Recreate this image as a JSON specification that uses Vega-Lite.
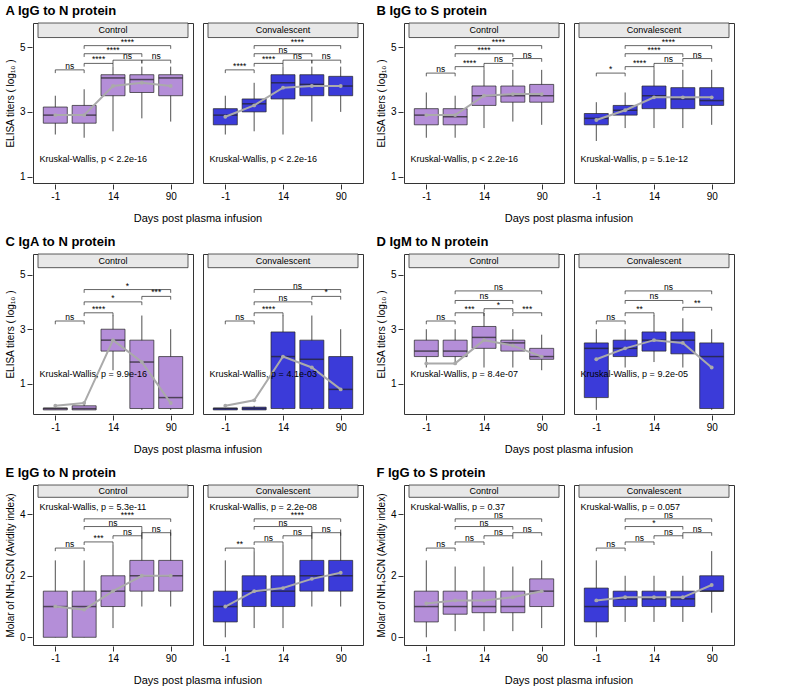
{
"$schema":"https://vega.github.io/schema/vega-lite/v6.json",
"padding":5,
"config":{"font":"Liberation Sans","view":{"stroke":"#333"},"axis":{"labelFontSize":10,"titleFontSize":10,"titleFontWeight":"normal","grid":false,"domain":false,"tickColor":"#333","labelOverlap":false},"title":{"anchor":"start","fontSize":13,"fontWeight":"bold","offset":4},"concat":{"spacing":12}},
"data":{"values":[
{"P":"A","g":"Control","k":"box","p":1,"q1":2.65,"md":2.9,"q3":3.15,"lo":2.3,"hi":3.5,"m":2.9},
{"P":"A","g":"Control","k":"box","p":2,"q1":2.65,"md":2.9,"q3":3.2,"lo":2.2,"hi":3.7,"m":2.9},
{"P":"A","g":"Control","k":"box","p":3,"q1":3.5,"md":4.05,"q3":4.15,"lo":2.4,"hi":4.4,"m":3.8},
{"P":"A","g":"Control","k":"box","p":4,"q1":3.6,"md":4.0,"q3":4.15,"lo":2.8,"hi":4.4,"m":3.9},
{"P":"A","g":"Control","k":"box","p":5,"q1":3.5,"md":4.05,"q3":4.15,"lo":2.7,"hi":4.4,"m":3.8},
{"P":"A","g":"Convalescent","k":"box","p":1,"q1":2.6,"md":2.9,"q3":3.1,"lo":2.3,"hi":3.5,"m":2.85},
{"P":"A","g":"Convalescent","k":"box","p":2,"q1":3.0,"md":3.25,"q3":3.4,"lo":2.4,"hi":3.9,"m":3.2},
{"P":"A","g":"Convalescent","k":"box","p":3,"q1":3.4,"md":3.9,"q3":4.15,"lo":2.3,"hi":4.4,"m":3.75},
{"P":"A","g":"Convalescent","k":"box","p":4,"q1":3.5,"md":3.85,"q3":4.15,"lo":2.7,"hi":4.4,"m":3.8},
{"P":"A","g":"Convalescent","k":"box","p":5,"q1":3.5,"md":3.8,"q3":4.1,"lo":3.0,"hi":4.4,"m":3.8},
{"P":"A","g":"Control","k":"br","a":1,"b":2,"y":4.3,"t":"ns"},
{"P":"A","g":"Control","k":"br","a":2,"b":3,"y":4.5,"t":"****"},
{"P":"A","g":"Control","k":"br","a":3,"b":4,"y":4.6,"t":"ns"},
{"P":"A","g":"Control","k":"br","a":4,"b":5,"y":4.6,"t":"ns"},
{"P":"A","g":"Control","k":"br","a":2,"b":4,"y":4.8,"t":"****"},
{"P":"A","g":"Control","k":"br","a":2,"b":5,"y":5.05,"t":"****"},
{"P":"A","g":"Convalescent","k":"br","a":1,"b":2,"y":4.3,"t":"****"},
{"P":"A","g":"Convalescent","k":"br","a":2,"b":3,"y":4.5,"t":"****"},
{"P":"A","g":"Convalescent","k":"br","a":3,"b":4,"y":4.6,"t":"ns"},
{"P":"A","g":"Convalescent","k":"br","a":4,"b":5,"y":4.6,"t":"ns"},
{"P":"A","g":"Convalescent","k":"br","a":2,"b":4,"y":4.8,"t":"ns"},
{"P":"A","g":"Convalescent","k":"br","a":2,"b":5,"y":5.05,"t":"****"},
{"P":"A","g":"Control","k":"kw","y":1.55,"t":"Kruskal-Wallis, p < 2.2e-16"},
{"P":"A","g":"Convalescent","k":"kw","y":1.55,"t":"Kruskal-Wallis, p < 2.2e-16"},

{"P":"B","g":"Control","k":"box","p":1,"q1":2.6,"md":2.9,"q3":3.1,"lo":2.2,"hi":3.6,"m":2.9},
{"P":"B","g":"Control","k":"box","p":2,"q1":2.6,"md":2.85,"q3":3.1,"lo":2.2,"hi":3.5,"m":2.9},
{"P":"B","g":"Control","k":"box","p":3,"q1":3.2,"md":3.5,"q3":3.8,"lo":2.5,"hi":4.3,"m":3.5},
{"P":"B","g":"Control","k":"box","p":4,"q1":3.3,"md":3.5,"q3":3.8,"lo":2.7,"hi":4.3,"m":3.55},
{"P":"B","g":"Control","k":"box","p":5,"q1":3.3,"md":3.5,"q3":3.85,"lo":2.6,"hi":4.3,"m":3.55},
{"P":"B","g":"Convalescent","k":"box","p":1,"q1":2.6,"md":2.8,"q3":2.95,"lo":2.1,"hi":3.3,"m":2.75},
{"P":"B","g":"Convalescent","k":"box","p":2,"q1":2.9,"md":3.05,"q3":3.2,"lo":2.5,"hi":3.6,"m":3.05},
{"P":"B","g":"Convalescent","k":"box","p":3,"q1":3.1,"md":3.5,"q3":3.8,"lo":2.5,"hi":4.3,"m":3.45},
{"P":"B","g":"Convalescent","k":"box","p":4,"q1":3.1,"md":3.4,"q3":3.75,"lo":2.5,"hi":4.3,"m":3.45},
{"P":"B","g":"Convalescent","k":"box","p":5,"q1":3.2,"md":3.35,"q3":3.75,"lo":2.6,"hi":4.3,"m":3.45},
{"P":"B","g":"Control","k":"br","a":1,"b":2,"y":4.2,"t":"ns"},
{"P":"B","g":"Control","k":"br","a":2,"b":3,"y":4.4,"t":"****"},
{"P":"B","g":"Control","k":"br","a":3,"b":4,"y":4.5,"t":"ns"},
{"P":"B","g":"Control","k":"br","a":4,"b":5,"y":4.65,"t":"ns"},
{"P":"B","g":"Control","k":"br","a":2,"b":4,"y":4.8,"t":"****"},
{"P":"B","g":"Control","k":"br","a":2,"b":5,"y":5.05,"t":"****"},
{"P":"B","g":"Convalescent","k":"br","a":1,"b":2,"y":4.2,"t":"*"},
{"P":"B","g":"Convalescent","k":"br","a":2,"b":3,"y":4.4,"t":"****"},
{"P":"B","g":"Convalescent","k":"br","a":3,"b":4,"y":4.5,"t":"ns"},
{"P":"B","g":"Convalescent","k":"br","a":4,"b":5,"y":4.65,"t":"ns"},
{"P":"B","g":"Convalescent","k":"br","a":2,"b":4,"y":4.8,"t":"****"},
{"P":"B","g":"Convalescent","k":"br","a":2,"b":5,"y":5.05,"t":"****"},
{"P":"B","g":"Control","k":"kw","y":1.55,"t":"Kruskal-Wallis, p < 2.2e-16"},
{"P":"B","g":"Convalescent","k":"kw","y":1.55,"t":"Kruskal-Wallis, p = 5.1e-12"},

{"P":"C","g":"Control","k":"box","p":1,"q1":0.05,"md":0.1,"q3":0.12,"lo":0.05,"hi":0.15,"m":0.2},
{"P":"C","g":"Control","k":"box","p":2,"q1":0.05,"md":0.1,"q3":0.2,"lo":0.05,"hi":0.3,"m":0.3},
{"P":"C","g":"Control","k":"box","p":3,"q1":2.2,"md":2.6,"q3":3.0,"lo":1.5,"hi":3.5,"m":2.6},
{"P":"C","g":"Control","k":"box","p":4,"q1":0.1,"md":1.8,"q3":2.6,"lo":0.05,"hi":3.5,"m":1.8},
{"P":"C","g":"Control","k":"box","p":5,"q1":0.1,"md":0.5,"q3":2.0,"lo":0.05,"hi":3.0,"m":0.3},
{"P":"C","g":"Convalescent","k":"box","p":1,"q1":0.05,"md":0.1,"q3":0.12,"lo":0.05,"hi":0.15,"m":0.2},
{"P":"C","g":"Convalescent","k":"box","p":2,"q1":0.05,"md":0.1,"q3":0.15,"lo":0.05,"hi":0.2,"m":0.4},
{"P":"C","g":"Convalescent","k":"box","p":3,"q1":0.1,"md":2.0,"q3":2.9,"lo":0.05,"hi":3.5,"m":2.0},
{"P":"C","g":"Convalescent","k":"box","p":4,"q1":0.1,"md":1.9,"q3":2.6,"lo":0.05,"hi":3.5,"m":1.6},
{"P":"C","g":"Convalescent","k":"box","p":5,"q1":0.1,"md":0.8,"q3":2.0,"lo":0.05,"hi":3.0,"m":0.8},
{"P":"C","g":"Control","k":"br","a":1,"b":2,"y":3.3,"t":"ns"},
{"P":"C","g":"Control","k":"br","a":2,"b":3,"y":3.6,"t":"****"},
{"P":"C","g":"Control","k":"br","a":2,"b":4,"y":4.0,"t":"*"},
{"P":"C","g":"Control","k":"br","a":4,"b":5,"y":4.2,"t":"***"},
{"P":"C","g":"Control","k":"br","a":2,"b":5,"y":4.45,"t":"*"},
{"P":"C","g":"Convalescent","k":"br","a":1,"b":2,"y":3.3,"t":"ns"},
{"P":"C","g":"Convalescent","k":"br","a":2,"b":3,"y":3.6,"t":"****"},
{"P":"C","g":"Convalescent","k":"br","a":2,"b":4,"y":4.0,"t":"ns"},
{"P":"C","g":"Convalescent","k":"br","a":4,"b":5,"y":4.2,"t":"*"},
{"P":"C","g":"Convalescent","k":"br","a":2,"b":5,"y":4.45,"t":"ns"},
{"P":"C","g":"Control","k":"kw","y":1.35,"t":"Kruskal-Wallis, p = 9.9e-16"},
{"P":"C","g":"Convalescent","k":"kw","y":1.35,"t":"Kruskal-Wallis, p = 4.1e-03"},

{"P":"D","g":"Control","k":"box","p":1,"q1":2.0,"md":2.2,"q3":2.6,"lo":1.6,"hi":3.0,"m":1.75},
{"P":"D","g":"Control","k":"box","p":2,"q1":2.0,"md":2.2,"q3":2.6,"lo":1.7,"hi":3.0,"m":1.75},
{"P":"D","g":"Control","k":"box","p":3,"q1":2.3,"md":2.7,"q3":3.1,"lo":1.6,"hi":3.6,"m":2.6},
{"P":"D","g":"Control","k":"box","p":4,"q1":2.2,"md":2.5,"q3":2.6,"lo":1.6,"hi":3.0,"m":2.4},
{"P":"D","g":"Control","k":"box","p":5,"q1":1.9,"md":2.0,"q3":2.3,"lo":1.5,"hi":2.8,"m":2.0},
{"P":"D","g":"Convalescent","k":"box","p":1,"q1":0.5,"md":2.3,"q3":2.5,"lo":0.05,"hi":3.0,"m":1.9},
{"P":"D","g":"Convalescent","k":"box","p":2,"q1":2.0,"md":2.3,"q3":2.6,"lo":1.6,"hi":3.0,"m":2.3},
{"P":"D","g":"Convalescent","k":"box","p":3,"q1":2.2,"md":2.6,"q3":2.9,"lo":1.8,"hi":3.5,"m":2.6},
{"P":"D","g":"Convalescent","k":"box","p":4,"q1":2.1,"md":2.6,"q3":2.9,"lo":1.6,"hi":3.4,"m":2.5},
{"P":"D","g":"Convalescent","k":"box","p":5,"q1":0.1,"md":2.0,"q3":2.5,"lo":0.05,"hi":3.0,"m":1.6},
{"P":"D","g":"Control","k":"br","a":1,"b":2,"y":3.3,"t":"ns"},
{"P":"D","g":"Control","k":"br","a":2,"b":3,"y":3.6,"t":"***"},
{"P":"D","g":"Control","k":"br","a":3,"b":4,"y":3.75,"t":"*"},
{"P":"D","g":"Control","k":"br","a":4,"b":5,"y":3.6,"t":"***"},
{"P":"D","g":"Control","k":"br","a":2,"b":4,"y":4.05,"t":"ns"},
{"P":"D","g":"Control","k":"br","a":2,"b":5,"y":4.4,"t":"ns"},
{"P":"D","g":"Convalescent","k":"br","a":1,"b":2,"y":3.3,"t":"ns"},
{"P":"D","g":"Convalescent","k":"br","a":2,"b":3,"y":3.6,"t":"**"},
{"P":"D","g":"Convalescent","k":"br","a":4,"b":5,"y":3.8,"t":"**"},
{"P":"D","g":"Convalescent","k":"br","a":2,"b":4,"y":4.05,"t":"ns"},
{"P":"D","g":"Convalescent","k":"br","a":2,"b":5,"y":4.4,"t":"ns"},
{"P":"D","g":"Control","k":"kw","y":1.35,"t":"Kruskal-Wallis, p = 8.4e-07"},
{"P":"D","g":"Convalescent","k":"kw","y":1.35,"t":"Kruskal-Wallis, p = 9.2e-05"},

{"P":"E","g":"Control","k":"box","p":1,"q1":0.0,"md":1.0,"q3":1.5,"lo":0.0,"hi":2.5,"m":1.0},
{"P":"E","g":"Control","k":"box","p":2,"q1":0.0,"md":1.0,"q3":1.5,"lo":0.0,"hi":2.5,"m":0.9},
{"P":"E","g":"Control","k":"box","p":3,"q1":1.0,"md":1.5,"q3":2.0,"lo":0.3,"hi":3.0,"m":1.5},
{"P":"E","g":"Control","k":"box","p":4,"q1":1.5,"md":2.0,"q3":2.5,"lo":1.0,"hi":3.5,"m":2.0},
{"P":"E","g":"Control","k":"box","p":5,"q1":1.5,"md":2.0,"q3":2.5,"lo":1.0,"hi":3.5,"m":2.0},
{"P":"E","g":"Convalescent","k":"box","p":1,"q1":0.5,"md":1.0,"q3":1.5,"lo":0.0,"hi":2.5,"m":1.0},
{"P":"E","g":"Convalescent","k":"box","p":2,"q1":1.0,"md":1.5,"q3":2.0,"lo":0.3,"hi":2.8,"m":1.5},
{"P":"E","g":"Convalescent","k":"box","p":3,"q1":1.0,"md":1.5,"q3":2.0,"lo":0.3,"hi":3.0,"m":1.6},
{"P":"E","g":"Convalescent","k":"box","p":4,"q1":1.5,"md":2.0,"q3":2.5,"lo":1.0,"hi":3.5,"m":1.9},
{"P":"E","g":"Convalescent","k":"box","p":5,"q1":1.5,"md":2.0,"q3":2.5,"lo":1.0,"hi":3.5,"m":2.1},
{"P":"E","g":"Control","k":"br","a":1,"b":2,"y":2.9,"t":"ns"},
{"P":"E","g":"Control","k":"br","a":2,"b":3,"y":3.1,"t":"***"},
{"P":"E","g":"Control","k":"br","a":3,"b":4,"y":3.3,"t":"ns"},
{"P":"E","g":"Control","k":"br","a":4,"b":5,"y":3.4,"t":"ns"},
{"P":"E","g":"Control","k":"br","a":2,"b":4,"y":3.6,"t":"ns"},
{"P":"E","g":"Control","k":"br","a":2,"b":5,"y":3.85,"t":"****"},
{"P":"E","g":"Convalescent","k":"br","a":1,"b":2,"y":2.9,"t":"**"},
{"P":"E","g":"Convalescent","k":"br","a":2,"b":3,"y":3.1,"t":"ns"},
{"P":"E","g":"Convalescent","k":"br","a":3,"b":4,"y":3.3,"t":"ns"},
{"P":"E","g":"Convalescent","k":"br","a":4,"b":5,"y":3.4,"t":"ns"},
{"P":"E","g":"Convalescent","k":"br","a":2,"b":4,"y":3.6,"t":"ns"},
{"P":"E","g":"Convalescent","k":"br","a":2,"b":5,"y":3.85,"t":"****"},
{"P":"E","g":"Control","k":"kw","y":4.25,"t":"Kruskal-Wallis, p = 5.3e-11"},
{"P":"E","g":"Convalescent","k":"kw","y":4.25,"t":"Kruskal-Wallis, p = 2.2e-08"},

{"P":"F","g":"Control","k":"box","p":1,"q1":0.5,"md":1.0,"q3":1.5,"lo":0.0,"hi":2.5,"m":1.1},
{"P":"F","g":"Control","k":"box","p":2,"q1":0.75,"md":1.0,"q3":1.5,"lo":0.2,"hi":2.3,"m":1.2},
{"P":"F","g":"Control","k":"box","p":3,"q1":0.8,"md":1.0,"q3":1.5,"lo":0.2,"hi":2.3,"m":1.2},
{"P":"F","g":"Control","k":"box","p":4,"q1":0.8,"md":1.0,"q3":1.5,"lo":0.2,"hi":2.3,"m":1.3},
{"P":"F","g":"Control","k":"box","p":5,"q1":1.0,"md":1.5,"q3":1.9,"lo":0.3,"hi":2.5,"m":1.5},
{"P":"F","g":"Convalescent","k":"box","p":1,"q1":0.5,"md":1.0,"q3":1.6,"lo":0.0,"hi":2.5,"m":1.2},
{"P":"F","g":"Convalescent","k":"box","p":2,"q1":1.0,"md":1.25,"q3":1.5,"lo":0.5,"hi":2.0,"m":1.3},
{"P":"F","g":"Convalescent","k":"box","p":3,"q1":1.0,"md":1.25,"q3":1.5,"lo":0.5,"hi":2.0,"m":1.3},
{"P":"F","g":"Convalescent","k":"box","p":4,"q1":1.0,"md":1.25,"q3":1.5,"lo":0.5,"hi":2.0,"m":1.3},
{"P":"F","g":"Convalescent","k":"box","p":5,"q1":1.5,"md":1.5,"q3":2.0,"lo":0.8,"hi":2.8,"m":1.7},
{"P":"F","g":"Control","k":"br","a":1,"b":2,"y":2.9,"t":"ns"},
{"P":"F","g":"Control","k":"br","a":2,"b":3,"y":3.1,"t":"ns"},
{"P":"F","g":"Control","k":"br","a":3,"b":4,"y":3.3,"t":"ns"},
{"P":"F","g":"Control","k":"br","a":4,"b":5,"y":3.4,"t":"ns"},
{"P":"F","g":"Control","k":"br","a":2,"b":4,"y":3.6,"t":"ns"},
{"P":"F","g":"Control","k":"br","a":2,"b":5,"y":3.85,"t":"ns"},
{"P":"F","g":"Convalescent","k":"br","a":1,"b":2,"y":2.9,"t":"ns"},
{"P":"F","g":"Convalescent","k":"br","a":2,"b":3,"y":3.1,"t":"ns"},
{"P":"F","g":"Convalescent","k":"br","a":3,"b":4,"y":3.3,"t":"ns"},
{"P":"F","g":"Convalescent","k":"br","a":4,"b":5,"y":3.4,"t":"ns"},
{"P":"F","g":"Convalescent","k":"br","a":2,"b":4,"y":3.6,"t":"*"},
{"P":"F","g":"Convalescent","k":"br","a":2,"b":5,"y":3.85,"t":"ns"},
{"P":"F","g":"Control","k":"kw","y":4.25,"t":"Kruskal-Wallis, p = 0.37"},
{"P":"F","g":"Convalescent","k":"kw","y":4.25,"t":"Kruskal-Wallis, p = 0.057"}
]},
"vconcat":[
{"hconcat":[
{"title":"A   IgG to N protein","transform":[{"filter":"datum.P=='A'"}],"facet":{"column":{"field":"g","header":{"title":"Days post plasma infusion","titleOrient":"bottom","labels":false,"titleFontSize":11,"titleFontWeight":"normal","titlePadding":2}}},"spacing":8,
"spec":{"width":160,"height":160,"layer":[
{"transform":[{"filter":"datum.k=='kw'"}],"mark":{"type":"rect","fill":"#e8e8e8","stroke":"#333","strokeWidth":0.8},"encoding":{"x":{"datum":0.4,"type":"quantitative","scale":{"domain":[0.4,5.6],"nice":false,"zero":false},"axis":{"values":[1,2,3,4,5],"labelExpr":"['','-1','0','14','28','90'][datum.value]","title":null}},"x2":{"datum":5.6},"y":{"datum":5.3,"type":"quantitative","scale":{"domain":[0.8,5.75],"nice":false,"zero":false},"axis":{"values":[1,2,3,4,5],"title":"ELISA titers ( log₁₀ )"}},"y2":{"datum":5.75}}},
{"transform":[{"filter":"datum.k=='kw'"}],"mark":{"type":"text","fontSize":9},"encoding":{"x":{"datum":3},"y":{"datum":5.52},"text":{"field":"g"}}},
{"transform":[{"filter":"datum.k=='box'"}],"mark":{"type":"rule","color":"#222","strokeWidth":0.8},"encoding":{"x":{"field":"p","type":"quantitative"},"y":{"field":"lo","type":"quantitative"},"y2":{"field":"hi"}}},
{"transform":[{"filter":"datum.k=='box'"}],"mark":{"type":"bar","width":24,"stroke":"#222","strokeWidth":0.7},"encoding":{"x":{"field":"p","type":"quantitative"},"y":{"field":"q1","type":"quantitative"},"y2":{"field":"q3"},"color":{"field":"g","type":"nominal","scale":{"domain":["Control","Convalescent"],"range":["#b48ed8","#3b3bd9"]},"legend":null}}},
{"transform":[{"filter":"datum.k=='box'"}],"mark":{"type":"tick","orient":"horizontal","size":24,"thickness":1.5,"color":"#222"},"encoding":{"x":{"field":"p","type":"quantitative"},"y":{"field":"md","type":"quantitative"}}},
{"transform":[{"filter":"datum.k=='box'"}],"mark":{"type":"line","color":"#aaaaaa","strokeWidth":2,"point":{"color":"#aaaaaa","size":15}},"encoding":{"x":{"field":"p","type":"quantitative"},"y":{"field":"m","type":"quantitative"}}},
{"transform":[{"filter":"datum.k=='br'"}],"mark":{"type":"rule","strokeWidth":0.7,"color":"#222"},"encoding":{"x":{"field":"a","type":"quantitative"},"x2":{"field":"b"},"y":{"field":"y","type":"quantitative"}}},
{"transform":[{"filter":"datum.k=='br'"},{"calculate":"datum.y-0.1","as":"yb"}],"mark":{"type":"rule","strokeWidth":0.7,"color":"#222"},"encoding":{"x":{"field":"a","type":"quantitative"},"y":{"field":"y","type":"quantitative"},"y2":{"field":"yb"}}},
{"transform":[{"filter":"datum.k=='br'"},{"calculate":"datum.y-0.1","as":"yb"}],"mark":{"type":"rule","strokeWidth":0.7,"color":"#222"},"encoding":{"x":{"field":"b","type":"quantitative"},"y":{"field":"y","type":"quantitative"},"y2":{"field":"yb"}}},
{"transform":[{"filter":"datum.k=='br'"},{"calculate":"(datum.a+datum.b)/2","as":"mid"}],"mark":{"type":"text","fontSize":8.5,"dy":-4},"encoding":{"x":{"field":"mid","type":"quantitative"},"y":{"field":"y","type":"quantitative"},"text":{"field":"t"}}},
{"transform":[{"filter":"datum.k=='kw'"}],"mark":{"type":"text","fontSize":9,"align":"left"},"encoding":{"x":{"datum":0.45},"y":{"field":"y","type":"quantitative"},"text":{"field":"t"}}}
]}},
{"title":"B   IgG to S protein","transform":[{"filter":"datum.P=='B'"}],"facet":{"column":{"field":"g","header":{"title":"Days post plasma infusion","titleOrient":"bottom","labels":false,"titleFontSize":11,"titleFontWeight":"normal","titlePadding":2}}},"spacing":8,
"spec":{"width":160,"height":160,"layer":[
{"transform":[{"filter":"datum.k=='kw'"}],"mark":{"type":"rect","fill":"#e8e8e8","stroke":"#333","strokeWidth":0.8},"encoding":{"x":{"datum":0.4,"type":"quantitative","scale":{"domain":[0.4,5.6],"nice":false,"zero":false},"axis":{"values":[1,2,3,4,5],"labelExpr":"['','-1','0','14','28','90'][datum.value]","title":null}},"x2":{"datum":5.6},"y":{"datum":5.3,"type":"quantitative","scale":{"domain":[0.8,5.75],"nice":false,"zero":false},"axis":{"values":[1,2,3,4,5],"title":"ELISA titers ( log₁₀ )"}},"y2":{"datum":5.75}}},
{"transform":[{"filter":"datum.k=='kw'"}],"mark":{"type":"text","fontSize":9},"encoding":{"x":{"datum":3},"y":{"datum":5.52},"text":{"field":"g"}}},
{"transform":[{"filter":"datum.k=='box'"}],"mark":{"type":"rule","color":"#222","strokeWidth":0.8},"encoding":{"x":{"field":"p","type":"quantitative"},"y":{"field":"lo","type":"quantitative"},"y2":{"field":"hi"}}},
{"transform":[{"filter":"datum.k=='box'"}],"mark":{"type":"bar","width":24,"stroke":"#222","strokeWidth":0.7},"encoding":{"x":{"field":"p","type":"quantitative"},"y":{"field":"q1","type":"quantitative"},"y2":{"field":"q3"},"color":{"field":"g","type":"nominal","scale":{"domain":["Control","Convalescent"],"range":["#b48ed8","#3b3bd9"]},"legend":null}}},
{"transform":[{"filter":"datum.k=='box'"}],"mark":{"type":"tick","orient":"horizontal","size":24,"thickness":1.5,"color":"#222"},"encoding":{"x":{"field":"p","type":"quantitative"},"y":{"field":"md","type":"quantitative"}}},
{"transform":[{"filter":"datum.k=='box'"}],"mark":{"type":"line","color":"#aaaaaa","strokeWidth":2,"point":{"color":"#aaaaaa","size":15}},"encoding":{"x":{"field":"p","type":"quantitative"},"y":{"field":"m","type":"quantitative"}}},
{"transform":[{"filter":"datum.k=='br'"}],"mark":{"type":"rule","strokeWidth":0.7,"color":"#222"},"encoding":{"x":{"field":"a","type":"quantitative"},"x2":{"field":"b"},"y":{"field":"y","type":"quantitative"}}},
{"transform":[{"filter":"datum.k=='br'"},{"calculate":"datum.y-0.1","as":"yb"}],"mark":{"type":"rule","strokeWidth":0.7,"color":"#222"},"encoding":{"x":{"field":"a","type":"quantitative"},"y":{"field":"y","type":"quantitative"},"y2":{"field":"yb"}}},
{"transform":[{"filter":"datum.k=='br'"},{"calculate":"datum.y-0.1","as":"yb"}],"mark":{"type":"rule","strokeWidth":0.7,"color":"#222"},"encoding":{"x":{"field":"b","type":"quantitative"},"y":{"field":"y","type":"quantitative"},"y2":{"field":"yb"}}},
{"transform":[{"filter":"datum.k=='br'"},{"calculate":"(datum.a+datum.b)/2","as":"mid"}],"mark":{"type":"text","fontSize":8.5,"dy":-4},"encoding":{"x":{"field":"mid","type":"quantitative"},"y":{"field":"y","type":"quantitative"},"text":{"field":"t"}}},
{"transform":[{"filter":"datum.k=='kw'"}],"mark":{"type":"text","fontSize":9,"align":"left"},"encoding":{"x":{"datum":0.45},"y":{"field":"y","type":"quantitative"},"text":{"field":"t"}}}
]}}
]},
{"hconcat":[
{"title":"C   IgA to N protein","transform":[{"filter":"datum.P=='C'"}],"facet":{"column":{"field":"g","header":{"title":"Days post plasma infusion","titleOrient":"bottom","labels":false,"titleFontSize":11,"titleFontWeight":"normal","titlePadding":2}}},"spacing":8,
"spec":{"width":160,"height":160,"layer":[
{"transform":[{"filter":"datum.k=='kw'"}],"mark":{"type":"rect","fill":"#e8e8e8","stroke":"#333","strokeWidth":0.8},"encoding":{"x":{"datum":0.4,"type":"quantitative","scale":{"domain":[0.4,5.6],"nice":false,"zero":false},"axis":{"values":[1,2,3,4,5],"labelExpr":"['','-1','0','14','28','90'][datum.value]","title":null}},"x2":{"datum":5.6},"y":{"datum":5.25,"type":"quantitative","scale":{"domain":[-0.1,5.75],"nice":false,"zero":false},"axis":{"values":[1,3,5],"title":"ELISA titers ( log₁₀ )"}},"y2":{"datum":5.75}}},
{"transform":[{"filter":"datum.k=='kw'"}],"mark":{"type":"text","fontSize":9},"encoding":{"x":{"datum":3},"y":{"datum":5.5},"text":{"field":"g"}}},
{"transform":[{"filter":"datum.k=='box'"}],"mark":{"type":"rule","color":"#222","strokeWidth":0.8},"encoding":{"x":{"field":"p","type":"quantitative"},"y":{"field":"lo","type":"quantitative"},"y2":{"field":"hi"}}},
{"transform":[{"filter":"datum.k=='box'"}],"mark":{"type":"bar","width":24,"stroke":"#222","strokeWidth":0.7},"encoding":{"x":{"field":"p","type":"quantitative"},"y":{"field":"q1","type":"quantitative"},"y2":{"field":"q3"},"color":{"field":"g","type":"nominal","scale":{"domain":["Control","Convalescent"],"range":["#b48ed8","#2626d4"]},"legend":null}}},
{"transform":[{"filter":"datum.k=='box'"}],"mark":{"type":"tick","orient":"horizontal","size":24,"thickness":1.5,"color":"#222"},"encoding":{"x":{"field":"p","type":"quantitative"},"y":{"field":"md","type":"quantitative"}}},
{"transform":[{"filter":"datum.k=='box'"}],"mark":{"type":"line","color":"#aaaaaa","strokeWidth":2,"point":{"color":"#aaaaaa","size":15}},"encoding":{"x":{"field":"p","type":"quantitative"},"y":{"field":"m","type":"quantitative"}}},
{"transform":[{"filter":"datum.k=='br'"}],"mark":{"type":"rule","strokeWidth":0.7,"color":"#222"},"encoding":{"x":{"field":"a","type":"quantitative"},"x2":{"field":"b"},"y":{"field":"y","type":"quantitative"}}},
{"transform":[{"filter":"datum.k=='br'"},{"calculate":"datum.y-0.12","as":"yb"}],"mark":{"type":"rule","strokeWidth":0.7,"color":"#222"},"encoding":{"x":{"field":"a","type":"quantitative"},"y":{"field":"y","type":"quantitative"},"y2":{"field":"yb"}}},
{"transform":[{"filter":"datum.k=='br'"},{"calculate":"datum.y-0.12","as":"yb"}],"mark":{"type":"rule","strokeWidth":0.7,"color":"#222"},"encoding":{"x":{"field":"b","type":"quantitative"},"y":{"field":"y","type":"quantitative"},"y2":{"field":"yb"}}},
{"transform":[{"filter":"datum.k=='br'"},{"calculate":"(datum.a+datum.b)/2","as":"mid"}],"mark":{"type":"text","fontSize":8.5,"dy":-4},"encoding":{"x":{"field":"mid","type":"quantitative"},"y":{"field":"y","type":"quantitative"},"text":{"field":"t"}}},
{"transform":[{"filter":"datum.k=='kw'"}],"mark":{"type":"text","fontSize":9,"align":"left"},"encoding":{"x":{"datum":0.45},"y":{"field":"y","type":"quantitative"},"text":{"field":"t"}}}
]}},
{"title":"D   IgM to N protein","transform":[{"filter":"datum.P=='D'"}],"facet":{"column":{"field":"g","header":{"title":"Days post plasma infusion","titleOrient":"bottom","labels":false,"titleFontSize":11,"titleFontWeight":"normal","titlePadding":2}}},"spacing":8,
"spec":{"width":160,"height":160,"layer":[
{"transform":[{"filter":"datum.k=='kw'"}],"mark":{"type":"rect","fill":"#e8e8e8","stroke":"#333","strokeWidth":0.8},"encoding":{"x":{"datum":0.4,"type":"quantitative","scale":{"domain":[0.4,5.6],"nice":false,"zero":false},"axis":{"values":[1,2,3,4,5],"labelExpr":"['','-1','0','14','28','90'][datum.value]","title":null}},"x2":{"datum":5.6},"y":{"datum":5.25,"type":"quantitative","scale":{"domain":[-0.1,5.75],"nice":false,"zero":false},"axis":{"values":[1,3,5],"title":"ELISA titers ( log₁₀ )"}},"y2":{"datum":5.75}}},
{"transform":[{"filter":"datum.k=='kw'"}],"mark":{"type":"text","fontSize":9},"encoding":{"x":{"datum":3},"y":{"datum":5.5},"text":{"field":"g"}}},
{"transform":[{"filter":"datum.k=='box'"}],"mark":{"type":"rule","color":"#222","strokeWidth":0.8},"encoding":{"x":{"field":"p","type":"quantitative"},"y":{"field":"lo","type":"quantitative"},"y2":{"field":"hi"}}},
{"transform":[{"filter":"datum.k=='box'"}],"mark":{"type":"bar","width":24,"stroke":"#222","strokeWidth":0.7},"encoding":{"x":{"field":"p","type":"quantitative"},"y":{"field":"q1","type":"quantitative"},"y2":{"field":"q3"},"color":{"field":"g","type":"nominal","scale":{"domain":["Control","Convalescent"],"range":["#b48ed8","#2626d4"]},"legend":null}}},
{"transform":[{"filter":"datum.k=='box'"}],"mark":{"type":"tick","orient":"horizontal","size":24,"thickness":1.5,"color":"#222"},"encoding":{"x":{"field":"p","type":"quantitative"},"y":{"field":"md","type":"quantitative"}}},
{"transform":[{"filter":"datum.k=='box'"}],"mark":{"type":"line","color":"#aaaaaa","strokeWidth":2,"point":{"color":"#aaaaaa","size":15}},"encoding":{"x":{"field":"p","type":"quantitative"},"y":{"field":"m","type":"quantitative"}}},
{"transform":[{"filter":"datum.k=='br'"}],"mark":{"type":"rule","strokeWidth":0.7,"color":"#222"},"encoding":{"x":{"field":"a","type":"quantitative"},"x2":{"field":"b"},"y":{"field":"y","type":"quantitative"}}},
{"transform":[{"filter":"datum.k=='br'"},{"calculate":"datum.y-0.12","as":"yb"}],"mark":{"type":"rule","strokeWidth":0.7,"color":"#222"},"encoding":{"x":{"field":"a","type":"quantitative"},"y":{"field":"y","type":"quantitative"},"y2":{"field":"yb"}}},
{"transform":[{"filter":"datum.k=='br'"},{"calculate":"datum.y-0.12","as":"yb"}],"mark":{"type":"rule","strokeWidth":0.7,"color":"#222"},"encoding":{"x":{"field":"b","type":"quantitative"},"y":{"field":"y","type":"quantitative"},"y2":{"field":"yb"}}},
{"transform":[{"filter":"datum.k=='br'"},{"calculate":"(datum.a+datum.b)/2","as":"mid"}],"mark":{"type":"text","fontSize":8.5,"dy":-4},"encoding":{"x":{"field":"mid","type":"quantitative"},"y":{"field":"y","type":"quantitative"},"text":{"field":"t"}}},
{"transform":[{"filter":"datum.k=='kw'"}],"mark":{"type":"text","fontSize":9,"align":"left"},"encoding":{"x":{"datum":0.45},"y":{"field":"y","type":"quantitative"},"text":{"field":"t"}}}
]}}
]},
{"hconcat":[
{"title":"E   IgG to N protein","transform":[{"filter":"datum.P=='E'"}],"facet":{"column":{"field":"g","header":{"title":"Days post plasma infusion","titleOrient":"bottom","labels":false,"titleFontSize":11,"titleFontWeight":"normal","titlePadding":2}}},"spacing":8,
"spec":{"width":160,"height":160,"layer":[
{"transform":[{"filter":"datum.k=='kw'"}],"mark":{"type":"rect","fill":"#e8e8e8","stroke":"#333","strokeWidth":0.8},"encoding":{"x":{"datum":0.4,"type":"quantitative","scale":{"domain":[0.4,5.6],"nice":false,"zero":false},"axis":{"values":[1,2,3,4,5],"labelExpr":"['','-1','0','14','28','90'][datum.value]","title":null}},"x2":{"datum":5.6},"y":{"datum":4.55,"type":"quantitative","scale":{"domain":[-0.25,4.95],"nice":false,"zero":false},"axis":{"values":[0,1,2,3,4],"title":"Molar of NH₄SCN (Avidity index)"}},"y2":{"datum":4.95}}},
{"transform":[{"filter":"datum.k=='kw'"}],"mark":{"type":"text","fontSize":9},"encoding":{"x":{"datum":3},"y":{"datum":4.75},"text":{"field":"g"}}},
{"transform":[{"filter":"datum.k=='box'"}],"mark":{"type":"rule","color":"#222","strokeWidth":0.8},"encoding":{"x":{"field":"p","type":"quantitative"},"y":{"field":"lo","type":"quantitative"},"y2":{"field":"hi"}}},
{"transform":[{"filter":"datum.k=='box'"}],"mark":{"type":"bar","width":24,"stroke":"#222","strokeWidth":0.7},"encoding":{"x":{"field":"p","type":"quantitative"},"y":{"field":"q1","type":"quantitative"},"y2":{"field":"q3"},"color":{"field":"g","type":"nominal","scale":{"domain":["Control","Convalescent"],"range":["#b48ed8","#2626d4"]},"legend":null}}},
{"transform":[{"filter":"datum.k=='box'"}],"mark":{"type":"tick","orient":"horizontal","size":24,"thickness":1.5,"color":"#222"},"encoding":{"x":{"field":"p","type":"quantitative"},"y":{"field":"md","type":"quantitative"}}},
{"transform":[{"filter":"datum.k=='box'"}],"mark":{"type":"line","color":"#aaaaaa","strokeWidth":2,"point":{"color":"#aaaaaa","size":15}},"encoding":{"x":{"field":"p","type":"quantitative"},"y":{"field":"m","type":"quantitative"}}},
{"transform":[{"filter":"datum.k=='br'"}],"mark":{"type":"rule","strokeWidth":0.7,"color":"#222"},"encoding":{"x":{"field":"a","type":"quantitative"},"x2":{"field":"b"},"y":{"field":"y","type":"quantitative"}}},
{"transform":[{"filter":"datum.k=='br'"},{"calculate":"datum.y-0.1","as":"yb"}],"mark":{"type":"rule","strokeWidth":0.7,"color":"#222"},"encoding":{"x":{"field":"a","type":"quantitative"},"y":{"field":"y","type":"quantitative"},"y2":{"field":"yb"}}},
{"transform":[{"filter":"datum.k=='br'"},{"calculate":"datum.y-0.1","as":"yb"}],"mark":{"type":"rule","strokeWidth":0.7,"color":"#222"},"encoding":{"x":{"field":"b","type":"quantitative"},"y":{"field":"y","type":"quantitative"},"y2":{"field":"yb"}}},
{"transform":[{"filter":"datum.k=='br'"},{"calculate":"(datum.a+datum.b)/2","as":"mid"}],"mark":{"type":"text","fontSize":8.5,"dy":-4},"encoding":{"x":{"field":"mid","type":"quantitative"},"y":{"field":"y","type":"quantitative"},"text":{"field":"t"}}},
{"transform":[{"filter":"datum.k=='kw'"}],"mark":{"type":"text","fontSize":9,"align":"left"},"encoding":{"x":{"datum":0.45},"y":{"field":"y","type":"quantitative"},"text":{"field":"t"}}}
]}},
{"title":"F   IgG to S protein","transform":[{"filter":"datum.P=='F'"}],"facet":{"column":{"field":"g","header":{"title":"Days post plasma infusion","titleOrient":"bottom","labels":false,"titleFontSize":11,"titleFontWeight":"normal","titlePadding":2}}},"spacing":8,
"spec":{"width":160,"height":160,"layer":[
{"transform":[{"filter":"datum.k=='kw'"}],"mark":{"type":"rect","fill":"#e8e8e8","stroke":"#333","strokeWidth":0.8},"encoding":{"x":{"datum":0.4,"type":"quantitative","scale":{"domain":[0.4,5.6],"nice":false,"zero":false},"axis":{"values":[1,2,3,4,5],"labelExpr":"['','-1','0','14','28','90'][datum.value]","title":null}},"x2":{"datum":5.6},"y":{"datum":4.55,"type":"quantitative","scale":{"domain":[-0.25,4.95],"nice":false,"zero":false},"axis":{"values":[0,1,2,3,4],"title":"Molar of NH₄SCN (Avidity index)"}},"y2":{"datum":4.95}}},
{"transform":[{"filter":"datum.k=='kw'"}],"mark":{"type":"text","fontSize":9},"encoding":{"x":{"datum":3},"y":{"datum":4.75},"text":{"field":"g"}}},
{"transform":[{"filter":"datum.k=='box'"}],"mark":{"type":"rule","color":"#222","strokeWidth":0.8},"encoding":{"x":{"field":"p","type":"quantitative"},"y":{"field":"lo","type":"quantitative"},"y2":{"field":"hi"}}},
{"transform":[{"filter":"datum.k=='box'"}],"mark":{"type":"bar","width":24,"stroke":"#222","strokeWidth":0.7},"encoding":{"x":{"field":"p","type":"quantitative"},"y":{"field":"q1","type":"quantitative"},"y2":{"field":"q3"},"color":{"field":"g","type":"nominal","scale":{"domain":["Control","Convalescent"],"range":["#b48ed8","#2626d4"]},"legend":null}}},
{"transform":[{"filter":"datum.k=='box'"}],"mark":{"type":"tick","orient":"horizontal","size":24,"thickness":1.5,"color":"#222"},"encoding":{"x":{"field":"p","type":"quantitative"},"y":{"field":"md","type":"quantitative"}}},
{"transform":[{"filter":"datum.k=='box'"}],"mark":{"type":"line","color":"#aaaaaa","strokeWidth":2,"point":{"color":"#aaaaaa","size":15}},"encoding":{"x":{"field":"p","type":"quantitative"},"y":{"field":"m","type":"quantitative"}}},
{"transform":[{"filter":"datum.k=='br'"}],"mark":{"type":"rule","strokeWidth":0.7,"color":"#222"},"encoding":{"x":{"field":"a","type":"quantitative"},"x2":{"field":"b"},"y":{"field":"y","type":"quantitative"}}},
{"transform":[{"filter":"datum.k=='br'"},{"calculate":"datum.y-0.1","as":"yb"}],"mark":{"type":"rule","strokeWidth":0.7,"color":"#222"},"encoding":{"x":{"field":"a","type":"quantitative"},"y":{"field":"y","type":"quantitative"},"y2":{"field":"yb"}}},
{"transform":[{"filter":"datum.k=='br'"},{"calculate":"datum.y-0.1","as":"yb"}],"mark":{"type":"rule","strokeWidth":0.7,"color":"#222"},"encoding":{"x":{"field":"b","type":"quantitative"},"y":{"field":"y","type":"quantitative"},"y2":{"field":"yb"}}},
{"transform":[{"filter":"datum.k=='br'"},{"calculate":"(datum.a+datum.b)/2","as":"mid"}],"mark":{"type":"text","fontSize":8.5,"dy":-4},"encoding":{"x":{"field":"mid","type":"quantitative"},"y":{"field":"y","type":"quantitative"},"text":{"field":"t"}}},
{"transform":[{"filter":"datum.k=='kw'"}],"mark":{"type":"text","fontSize":9,"align":"left"},"encoding":{"x":{"datum":0.45},"y":{"field":"y","type":"quantitative"},"text":{"field":"t"}}}
]}}
]}
]
}
